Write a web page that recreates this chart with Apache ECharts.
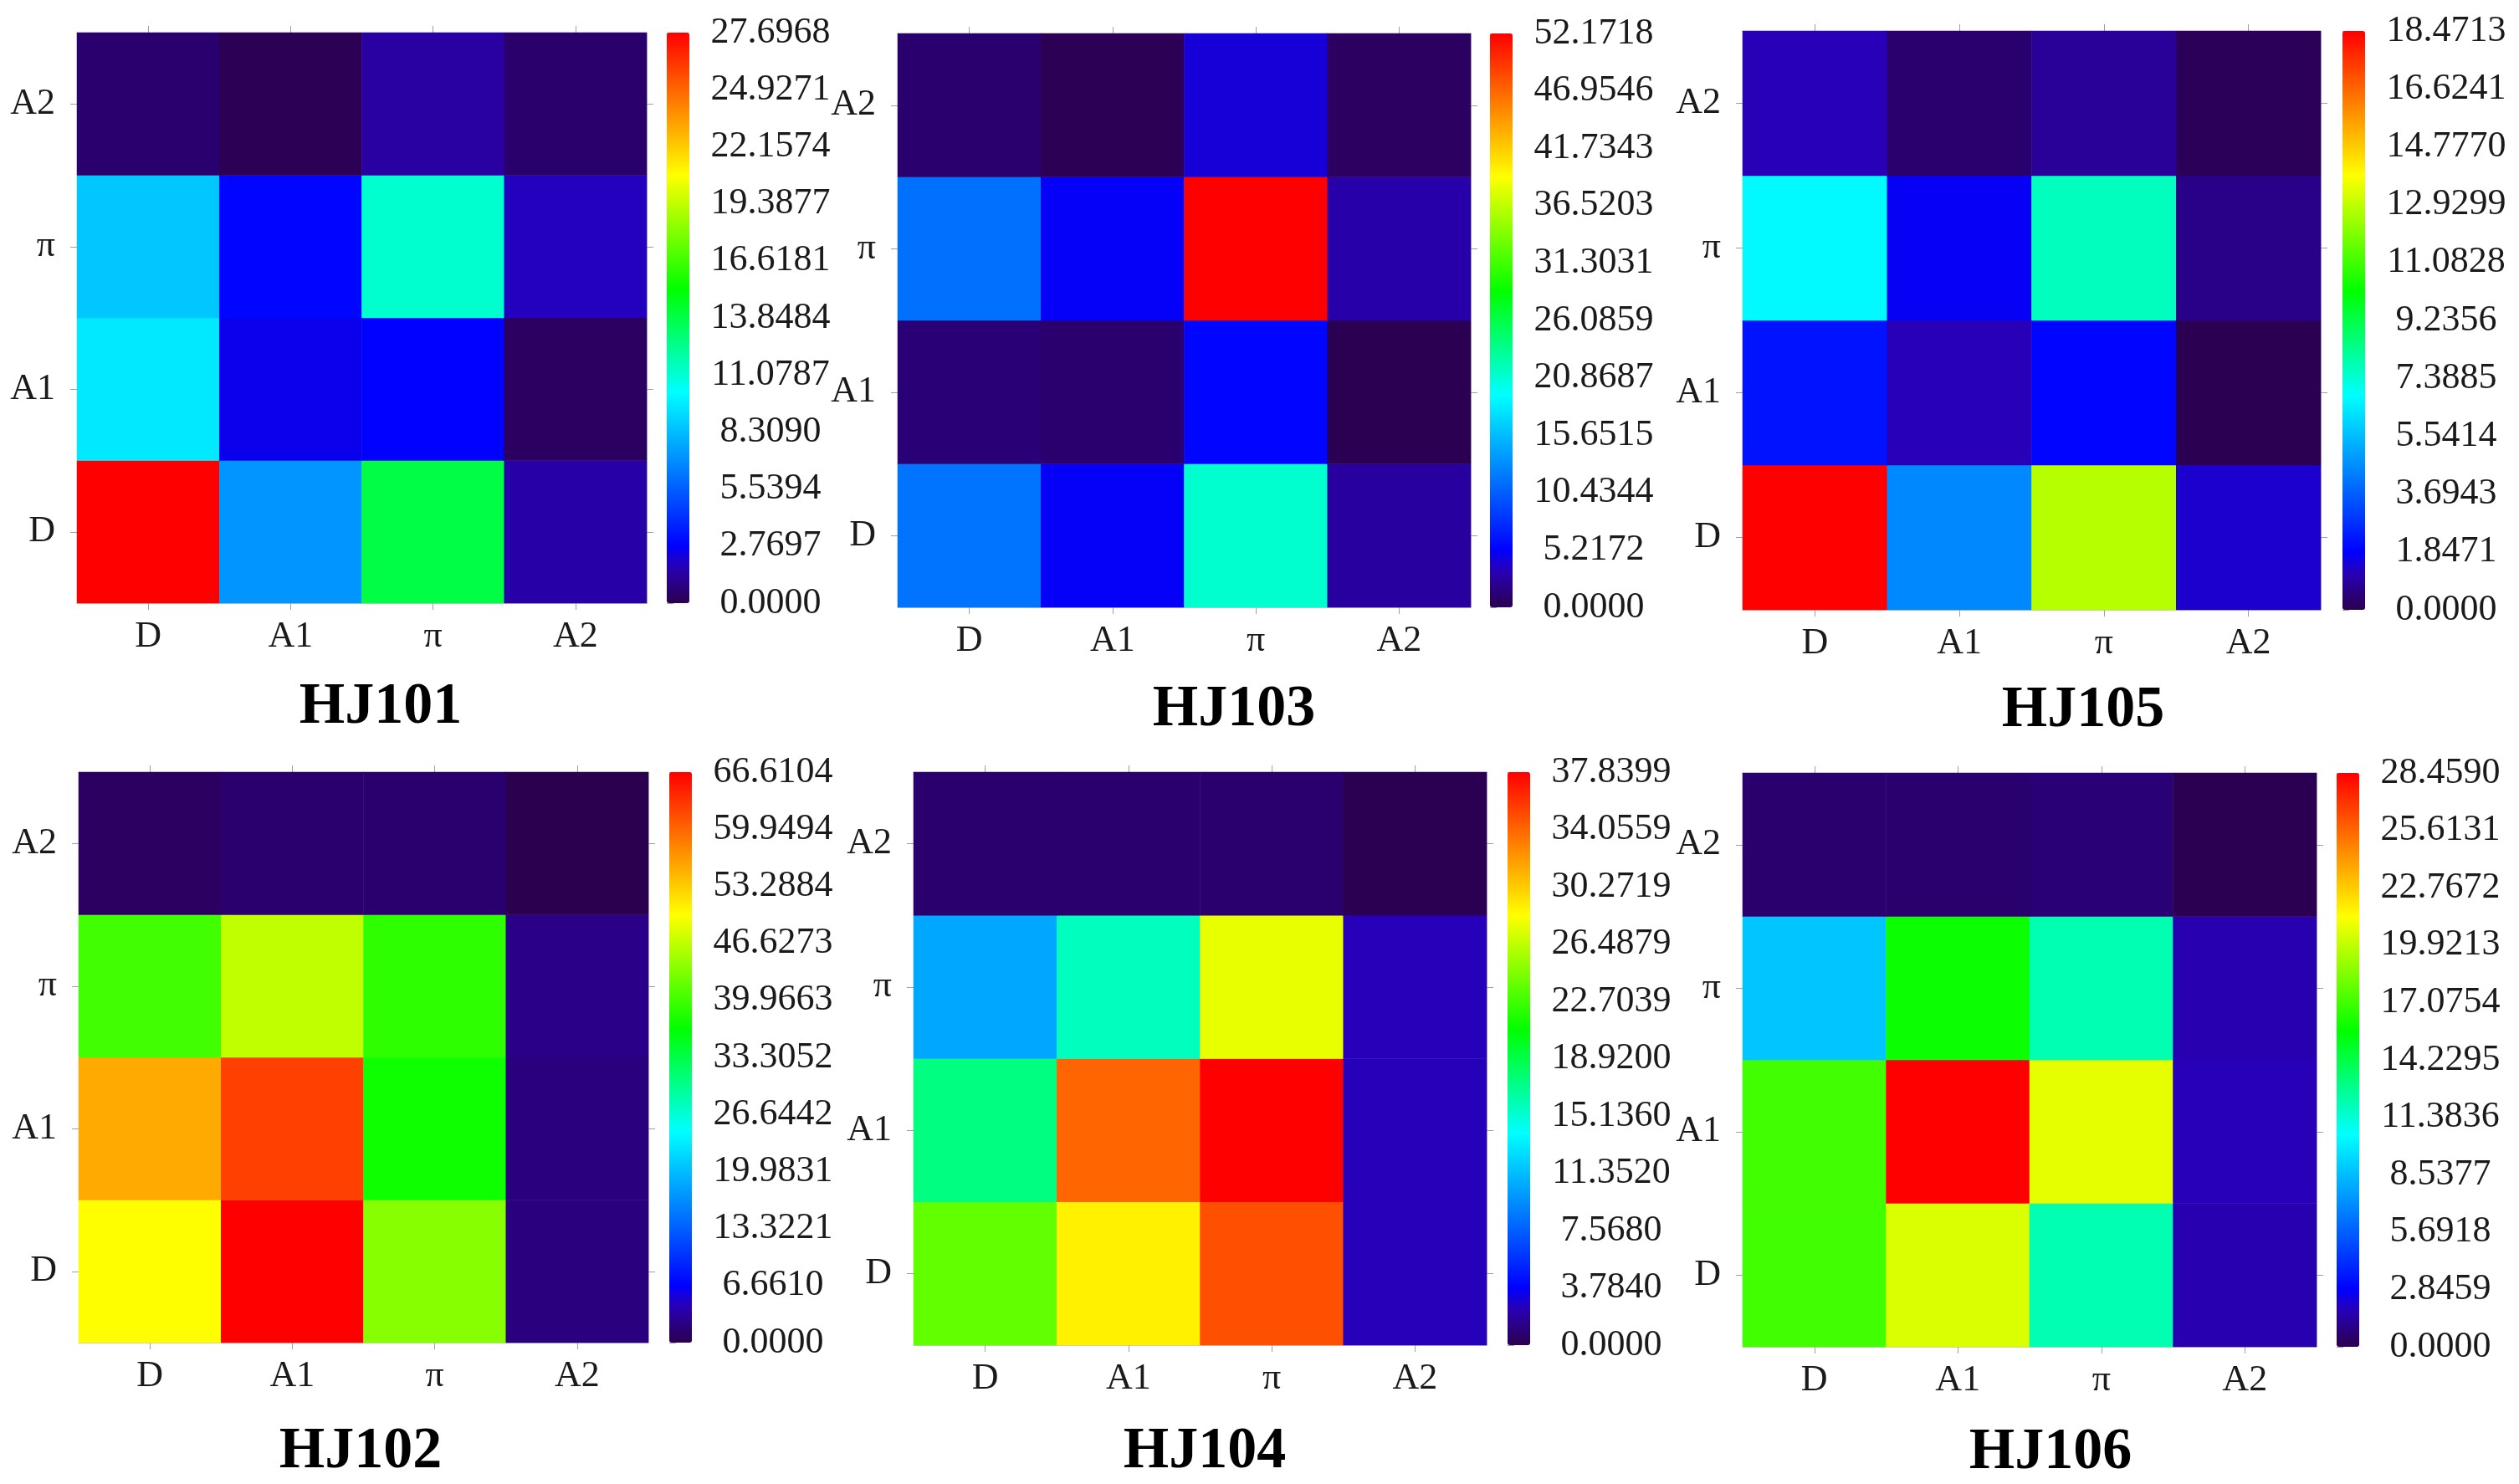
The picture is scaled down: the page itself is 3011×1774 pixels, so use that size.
<!DOCTYPE html>
<html>
<head>
<meta charset="utf-8">
<script src="https://cdn.jsdelivr.net/npm/echarts@6/dist/echarts.min.js"></script>
<style>
  html, body { margin: 0; padding: 0; background: #fff; }
  #chart { width: 3011px; height: 1774px; }
</style>
</head>
<body>
<div id="chart"></div>
<script>
// ===== data =====
const categories = ['D', 'A1', 'π', 'A2'];
const titles = ['HJ101', 'HJ103', 'HJ105', 'HJ102', 'HJ104', 'HJ106'];
const scaleMax = [27.6968, 52.1718, 18.4713, 66.6104, 37.8399, 28.4590];

// colour bar tick labels, bottom to top
const ticks101 = ['0.0000', '2.7697', '5.5394', '8.3090', '11.0787', '13.8484', '16.6181', '19.3877', '22.1574', '24.9271', '27.6968'];
const ticks103 = ['0.0000', '5.2172', '10.4344', '15.6515', '20.8687', '26.0859', '31.3031', '36.5203', '41.7343', '46.9546', '52.1718'];
const ticks105 = ['0.0000', '1.8471', '3.6943', '5.5414', '7.3885', '9.2356', '11.0828', '12.9299', '14.7770', '16.6241', '18.4713'];
const ticks102 = ['0.0000', '6.6610', '13.3221', '19.9831', '26.6442', '33.3052', '39.9663', '46.6273', '53.2884', '59.9494', '66.6104'];
const ticks104 = ['0.0000', '3.7840', '7.5680', '11.3520', '15.1360', '18.9200', '22.7039', '26.4879', '30.2719', '34.0559', '37.8399'];
const ticks106 = ['0.0000', '2.8459', '5.6918', '8.5377', '11.3836', '14.2295', '17.0754', '19.9213', '22.7672', '25.6131', '28.4590'];
const tickLabels = [ticks101, ticks103, ticks105, ticks102, ticks104, ticks106];

// rows from bottom to top: D, A1, π, A2 ; columns: D, A1, π, A2
const hj101 = [
  [27.6968, 7.15, 13.9, 1.5],
  [9.6, 2.5, 2.8, 0.3],
  [8.6, 2.9, 11.2, 1.9],
  [0.55, 0.1, 1.4, 0.5]
];
const hj103 = [
  [11.6, 5.0, 21.1, 2.6],
  [1.3, 1.0, 5.5, 0.1],
  [11.4, 5.0, 52.1718, 2.9],
  [1.0, 0.2, 4.2, 0.6]
];
const hj105 = [
  [18.4713, 4.5, 12.8, 1.4],
  [2.2, 1.2, 1.94, 0.05],
  [6.75, 1.75, 7.66, 0.65],
  [1.2, 0.37, 0.83, 0.1]
];
const hj102 = [
  [50.0, 66.6104, 43.7, 2.0],
  [55.5, 62.4, 37.3, 2.0],
  [40.0, 46.6, 39.0, 2.3],
  [0.7, 1.3, 1.3, 0.0]
];
const hj104 = [
  [23.7, 28.9, 34.9, 2.5],
  [17.4, 34.1, 37.8399, 2.5],
  [10.5, 15.7, 27.7, 2.5],
  [0.76, 0.76, 0.76, 0.1]
];
const hj106 = [
  [17.1, 20.5, 12.1, 1.7],
  [17.1, 28.459, 20.8, 1.85],
  [8.8, 15.9, 12.1, 1.7],
  [0.57, 0.57, 0.7, 0.05]
];
const panels = [hj101, hj103, hj105, hj102, hj104, hj106];

// ===== layout (px) =====
const plotBoxes = [
  [92, 39, 681, 682], [1073, 40, 685, 686], [2083, 37, 691, 692],
  [94, 923, 681, 682], [1092, 923, 685, 685], [2083, 924, 686, 686]
];
const barLeft = [797, 1781, 2800, 800, 1802, 2793];
const titlePos = [[455, 846], [1475, 849], [2490, 850], [431, 1736], [1440, 1736], [2451, 1737]];

// 调色板 (dark purple -> violet blue -> blue -> cyan -> green -> yellow -> red)
const stops = [
  [0.000, [43, 0, 79]],
  [0.065, [40, 0, 184]],
  [0.100, [0, 0, 255]],
  [0.370, [0, 255, 255]],
  [0.550, [0, 255, 0]],
  [0.750, [255, 255, 0]],
  [1.000, [255, 0, 0]]
];
function paletteAt(t) {
  for (let i = 1; i < stops.length; i++) {
    if (t <= stops[i][0] + 1e-9) {
      const [t0, c0] = stops[i - 1];
      const [t1, c1] = stops[i];
      const k = Math.max(0, Math.min(1, (t - t0) / (t1 - t0)));
      const c = c0.map((v, j) => Math.round(v + (c1[j] - v) * k));
      return `rgb(${c[0]},${c[1]},${c[2]})`;
    }
  }
  return 'rgb(255,0,0)';
}
const palette = [];
for (let i = 0; i <= 200; i++) palette.push(paletteAt(i / 200));

const font = '"Liberation Serif", "Times New Roman", serif';
const tickColor = '#a0a0a0';
const labelSize = 44;

const option = {
  backgroundColor: '#fff',
  animation: false,
  grid: [], xAxis: [], yAxis: [], series: [], visualMap: [],
  graphic: []
};

panels.forEach((rows, i) => {
  const [gl, gt, gw, gh] = plotBoxes[i];
  const max = scaleMax[i];
  const labels = tickLabels[i];

  // heatmap grid
  const g = option.grid.length;
  option.grid.push({ left: gl, top: gt, width: gw, height: gh, containLabel: false });
  const xi = option.xAxis.length;
  option.xAxis.push({
    type: 'category', gridIndex: g, data: categories, position: 'bottom',
    axisLine: { show: true, lineStyle: { color: '#c8c8c8', width: 1 } },
    axisTick: { show: true, alignWithLabel: true, length: 8, lineStyle: { color: tickColor } },
    axisLabel: { color: '#1a1a1a', fontFamily: font, fontSize: labelSize, margin: 18 },
    splitLine: { show: false }
  });
  option.xAxis.push({
    type: 'category', gridIndex: g, data: categories, position: 'top',
    axisLine: { show: true, lineStyle: { color: '#c8c8c8', width: 1 } },
    axisTick: { show: true, alignWithLabel: true, length: 8, lineStyle: { color: tickColor } },
    axisLabel: { show: false }
  });
  const yi = option.yAxis.length;
  option.yAxis.push({
    type: 'category', gridIndex: g, data: categories, position: 'left',
    axisLine: { show: true, lineStyle: { color: '#c8c8c8', width: 1 } },
    axisTick: { show: true, alignWithLabel: true, length: 8, lineStyle: { color: tickColor } },
    axisLabel: { color: '#1a1a1a', fontFamily: font, fontSize: labelSize, margin: 26 },
    splitLine: { show: false }
  });
  option.yAxis.push({
    type: 'category', gridIndex: g, data: categories, position: 'right',
    axisLine: { show: true, lineStyle: { color: '#c8c8c8', width: 1 } },
    axisTick: { show: true, alignWithLabel: true, length: 8, lineStyle: { color: tickColor } },
    axisLabel: { show: false }
  });

  const data = [];
  rows.forEach((row, r) => row.forEach((v, c) => data.push([c, r, v])));
  const si = option.series.length;
  option.series.push({
    type: 'heatmap', xAxisIndex: xi, yAxisIndex: yi, data: data,
    itemStyle: { borderWidth: 0 },
    emphasis: { disabled: true }
  });

  // colour bar
  option.visualMap.push({
    type: 'continuous', seriesIndex: si, min: 0, max: max,
    calculable: false, hoverLink: false, realtime: false,
    left: barLeft[i], top: gt, itemWidth: 27, itemHeight: gh, padding: 0,
    inRange: { color: palette }
  });

  // colour bar tick labels
  const cg = option.grid.length;
  option.grid.push({ left: barLeft[i], top: gt, width: 27, height: gh, containLabel: false });
  option.xAxis.push({ type: 'value', gridIndex: cg, show: false, min: 0, max: 1 });
  option.yAxis.push({
    type: 'value', gridIndex: cg, position: 'right', min: 0, max: labels.length - 1, interval: 1,
    axisLine: { show: false },
    axisTick: { show: true, length: 8, lineStyle: { color: tickColor } },
    splitLine: { show: false },
    axisLabel: {
      color: '#1a1a1a', fontFamily: font, fontSize: labelSize, margin: 97, align: 'center',
      formatter: v => labels[Math.round(v)]
    }
  });

  // title
  option.graphic.push({
    type: 'text', x: titlePos[i][0], y: titlePos[i][1],
    style: {
      text: titles[i], fill: '#000', fontFamily: font, fontSize: 70, fontWeight: 'bold',
      align: 'center', verticalAlign: 'middle', textAlign: 'center', textVerticalAlign: 'middle'
    }
  });
});

const chart = echarts.init(document.getElementById('chart'));
chart.setOption(option);
</script>
</body>
</html>
